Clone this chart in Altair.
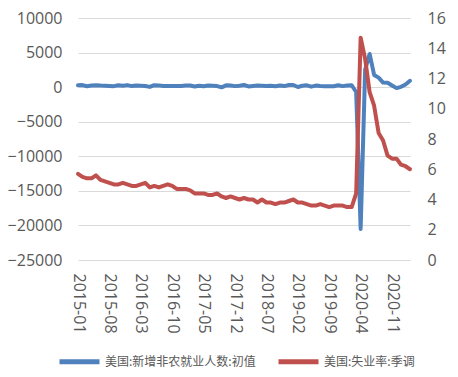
import altair as alt
import pandas as pd

NAME_A = "美国:新增非农就业人数:初值"
NAME_B = "美国:失业率:季调"

months = pd.date_range("2015-01-01", "2021-03-01", freq="MS").strftime("%Y-%m").tolist()

nfp = [257, 295, 126, 223, 280, 223, 215, 173, 142, 271, 211, 292,
       151, 242, 215, 160, 38, 287, 255, 151, 156, 161, 178, 156,
       227, 235, 98, 211, 138, 222, 209, 156, -33, 261, 228, 148,
       200, 313, 103, 164, 223, 213, 157, 201, 134, 250, 155, 312,
       304, 20, 196, 263, 75, 224, 164, 130, 136, 128, 266, 145,
       225, 273, -701, -20500, 2509, 4800, 1763, 1371, 661, 638, 245, -140,
       49, 379, 916]

unemp = [5.7, 5.5, 5.4, 5.4, 5.6, 5.3, 5.2, 5.1, 5.0, 5.0, 5.1, 5.0,
         4.9, 4.9, 5.0, 5.1, 4.8, 4.9, 4.8, 4.9, 5.0, 4.9, 4.7, 4.7,
         4.7, 4.6, 4.4, 4.4, 4.4, 4.3, 4.3, 4.4, 4.2, 4.1, 4.2, 4.1,
         4.0, 4.1, 4.0, 4.0, 3.8, 4.0, 3.8, 3.8, 3.7, 3.8, 3.8, 3.9,
         4.0, 3.8, 3.8, 3.7, 3.6, 3.6, 3.7, 3.6, 3.5, 3.6, 3.6, 3.6,
         3.5, 3.5, 4.4, 14.7, 13.3, 11.1, 10.2, 8.4, 7.9, 6.9, 6.7, 6.7,
         6.3, 6.2, 6.0]

tick_labels = ["2015-01", "2015-08", "2016-03", "2016-10", "2017-05", "2017-12",
               "2018-07", "2019-02", "2019-09", "2020-04", "2020-11"]
left_ticks = [10000, 5000, 0, -5000, -10000, -15000, -20000, -25000]
right_ticks = [0, 2, 4, 6, 8, 10, 12, 14, 16]

df = pd.DataFrame({
    "month": months + months,
    "series": [NAME_A] * len(months) + [NAME_B] * len(months),
    "value": nfp + unemp,
})

AXIS_FONT = "Open Sans"
CJK_FONT = "Noto Sans CJK SC"
GRAY = "#595959"

x_enc = alt.X(
    "month:O",
    scale=alt.Scale(type="point", padding=0),
    axis=alt.Axis(values=tick_labels, labelAngle=90, title=None, domain=False,
                  ticks=False, grid=False, labelPadding=13, labelOverlap=False),
)

color_enc = alt.Color(
    "series:N",
    scale=alt.Scale(domain=[NAME_A, NAME_B], range=["#4F81BD", "#C0504D"]),
    legend=alt.Legend(title=None),
)

blue = alt.Chart(df).transform_filter(alt.datum.series == NAME_A).mark_line(
    strokeWidth=4, strokeCap="round", strokeJoin="round"
).encode(
    x=x_enc,
    y=alt.Y("value:Q", scale=alt.Scale(domain=[-25000, 10000], nice=False, zero=False),
            axis=alt.Axis(values=left_ticks, orient="left", grid=True, format="d",
                          gridColor="#d9d9d9", domain=False, ticks=False,
                          labelOverlap=False, labelPadding=16, title=None)),
    color=color_enc,
)

red = alt.Chart(df).transform_filter(alt.datum.series == NAME_B).mark_line(
    strokeWidth=4, strokeCap="round", strokeJoin="round"
).encode(
    x=x_enc,
    y=alt.Y("value:Q", scale=alt.Scale(domain=[0, 16], nice=False, zero=False),
            axis=alt.Axis(values=right_ticks, orient="right", grid=False, format="d",
                          domain=False, ticks=False, labelOverlap=False,
                          labelPadding=17, title=None)),
    color=color_enc,
)

chart = alt.layer(blue, red).resolve_scale(y="independent").properties(
    width=332, height=242,
    autosize=alt.AutoSizeParams(type="none"),
    padding={"left": 78, "top": 18, "right": 48, "bottom": 117},
).configure_axis(
    labelFont=AXIS_FONT, labelFontSize=16, labelColor=GRAY,
).configure_view(stroke=None).configure_legend(
    orient="none", legendX=-21, legendY=321, direction="horizontal",
    symbolType="stroke", symbolSize=1600, symbolStrokeWidth=5,
    labelFont=CJK_FONT, labelFontSize=12, labelColor=GRAY, labelLimit=0,
    columnPadding=12, labelOffset=3, padding=0,
)

chart.save("out.html", embed_options={"renderer": "svg", "actions": False})
